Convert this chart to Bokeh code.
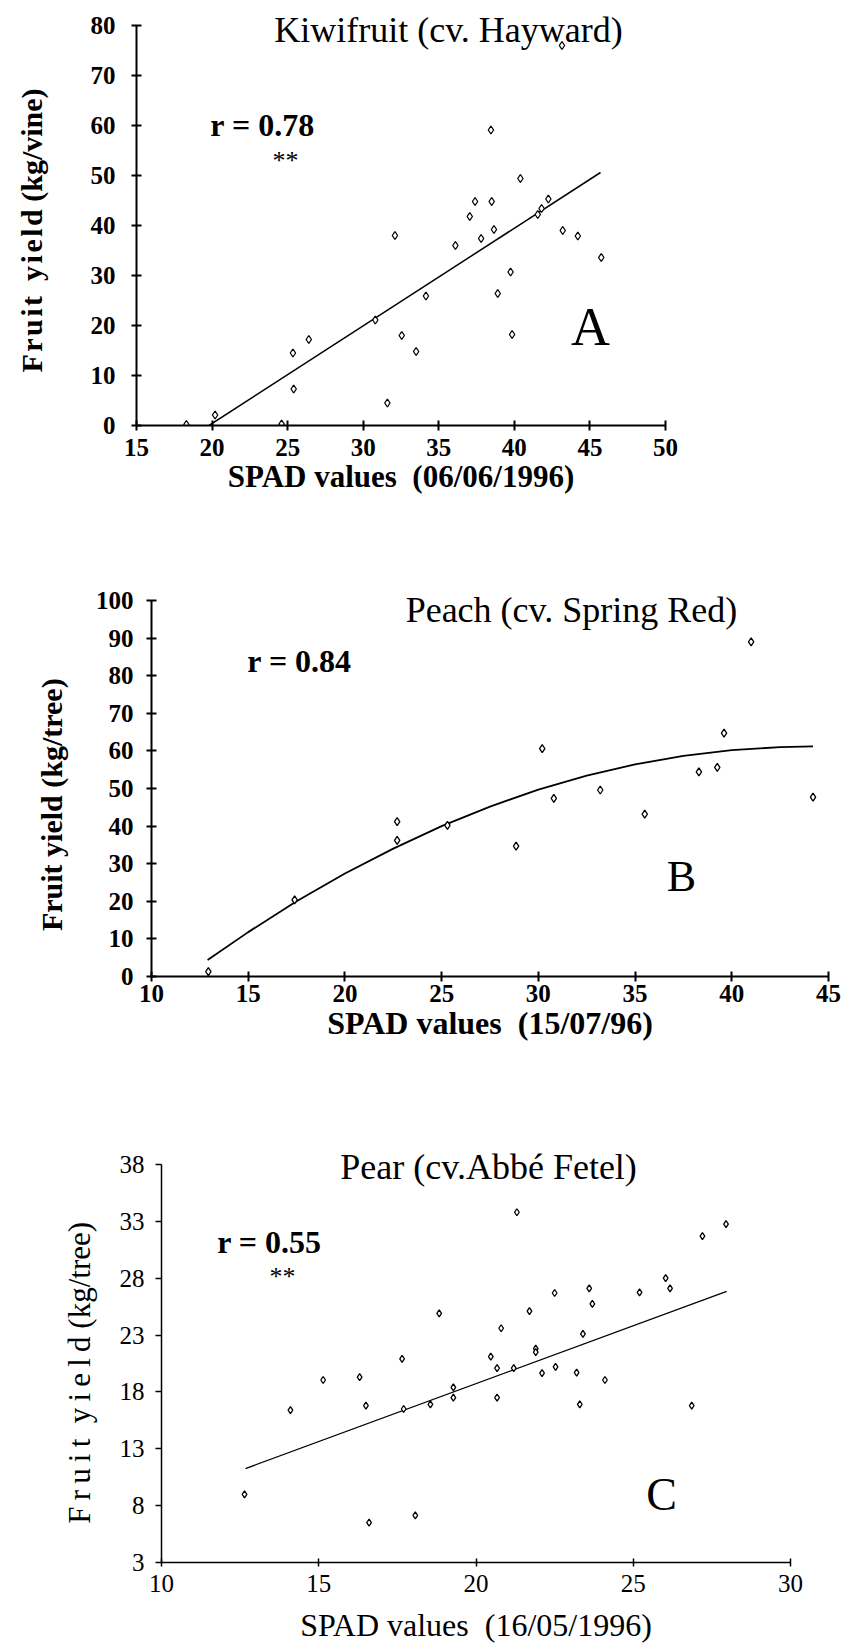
from bokeh.plotting import figure
from bokeh.models import Range1d, FixedTicker, Label
from bokeh.embed import file_html
from bokeh.resources import INLINE

SERIF = "Liberation Serif"
NB = "\u00a0"
HAIR = "\u200a"
THIN = "\u2009"

# ---------------- Panel A : Kiwifruit ----------------
kiwi_spad = [18.3, 20.2, 24.6, 25.35, 25.4, 26.4, 30.8, 31.6, 32.1, 32.55, 33.5, 34.15,
             36.1, 37.05, 37.4, 37.8, 38.45, 38.5, 38.65, 38.9, 39.75, 39.85, 40.4,
             41.55, 41.8, 42.25, 43.2, 44.2, 45.75, 43.15]
kiwi_yield = [0.2, 2.1, 0.3, 14.5, 7.3, 17.2, 21.1, 4.5, 38.0, 18.0, 14.8, 25.9,
              36.0, 41.8, 44.8, 37.4, 59.1, 44.8, 39.2, 26.4, 30.7, 18.2, 49.4,
              42.2, 43.4, 45.3, 39.0, 37.9, 33.6, 76.0]
kiwi_fit_x = [19.8, 45.7]
kiwi_fit_y = [0.0, 50.6]
kiwi_xticks = [15, 20, 25, 30, 35, 40, 45, 50]
kiwi_yticks = [0, 10, 20, 30, 40, 50, 60, 70, 80]

# ---------------- Panel B : Peach ----------------
peach_spad = [12.94, 17.4, 22.7, 22.7, 25.3, 28.85, 30.2, 30.8, 33.2, 35.5, 38.3,
              39.25, 39.6, 41.0, 44.2]
peach_yield = [1.3, 20.4, 41.2, 36.2, 40.2, 34.7, 60.6, 47.4, 49.6, 43.2, 54.4,
               55.6, 64.7, 89.0, 47.7]
peach_fit_x = [12.9, 15, 17.5, 20, 22.5, 25, 27.5, 30, 32.5, 35, 37.5, 40, 42.5, 44.2]
peach_fit_y = [4.4, 11.8, 20.0, 27.4, 34.0, 40.0, 45.2, 49.7, 53.4, 56.4, 58.7, 60.2, 61.0, 61.2]
peach_xticks = [10, 15, 20, 25, 30, 35, 40, 45]
peach_yticks = [0, 10, 20, 30, 40, 50, 60, 70, 80, 90, 100]

# ---------------- Panel C : Pear ----------------
pear_spad = [12.64, 14.1, 15.14, 16.3, 16.5, 16.6, 17.65, 17.7, 18.07, 18.55, 18.83,
             19.28, 19.28, 20.47, 20.67, 20.67, 20.8, 21.2, 21.3, 21.7, 21.9, 21.9,
             22.1, 22.5, 22.53, 23.2, 23.3, 23.4, 23.6, 23.7, 24.1, 25.2, 26.03,
             26.17, 26.86, 27.2, 27.95]
pear_yield = [9.0, 16.4, 19.05, 19.3, 16.8, 6.5, 20.9, 16.5, 7.15, 16.9, 24.9,
              18.4, 17.5, 21.1, 20.1, 17.5, 23.6, 20.1, 33.8, 25.1, 21.8, 21.5,
              19.65, 26.7, 20.2, 19.7, 16.9, 23.1, 27.1, 25.75, 19.05, 26.75, 28.0,
              27.1, 16.8, 31.7, 32.75]
pear_fit_x = [12.67, 27.97]
pear_fit_y = [11.26, 26.85]
pear_xticks = [10, 15, 20, 25, 30]
pear_yticks = [3, 8, 13, 18, 23, 28, 33, 38]


def spaced(word, sep):
    return sep.join(word)


def make_panel(height, frame_top, y_top_px, y_bot_px, left, right, xr, yr):
    """frame_top: top of the frame (px, local); y_top_px / y_bot_px: pixel rows of
    the first and last y tick; the y range is extended above the top tick so the
    in-plot title is not clipped, the axis line itself stops at the top tick."""
    per_px = (yr[1] - yr[0]) / (y_bot_px - y_top_px)
    y_end = yr[1] + (y_top_px - frame_top) * per_px
    p = figure(width=843, height=height,
               x_range=Range1d(*xr), y_range=Range1d(yr[0], y_end),
               output_backend="svg", toolbar_location=None,
               min_border_left=left, min_border_right=843 - right,
               min_border_top=frame_top, min_border_bottom=height - y_bot_px)
    p.outline_line_color = None
    p.xgrid.visible = False
    p.ygrid.visible = False
    p.yaxis[0].bounds = yr
    return p


def style_axis(ax, ticks, label, bold, tick_in, tick_out, lab_standoff, axlab_standoff,
               tick_size, label_size, line_w):
    ax.ticker = FixedTicker(ticks=ticks)
    ax.axis_label = label
    ax.axis_line_color = "black"
    ax.axis_line_width = line_w
    ax.major_tick_line_color = "black"
    ax.major_tick_line_width = line_w
    ax.major_tick_in = tick_in
    ax.major_tick_out = tick_out
    ax.minor_tick_line_color = None
    ax.major_label_text_font = SERIF
    ax.major_label_text_font_size = tick_size
    ax.major_label_text_font_style = "bold" if bold else "normal"
    ax.major_label_text_color = "black"
    ax.major_label_standoff = lab_standoff
    ax.axis_label_text_font = SERIF
    ax.axis_label_text_font_size = label_size
    ax.axis_label_text_font_style = "bold" if bold else "normal"
    ax.axis_label_text_color = "black"
    ax.axis_label_standoff = axlab_standoff


def add_text(p, x, y, text, size, bold=False):
    p.add_layout(Label(x=x, y=y, text=text, text_font=SERIF, text_font_size=size,
                       text_font_style="bold" if bold else "normal",
                       text_align="center", text_baseline="middle", text_color="black"))


def add_points(p, xs, ys, size=8):
    p.scatter(xs, ys, marker="diamond", size=size, fill_color="white",
              line_color="black", line_width=1.3)


# Panel A  (page rows 0..510)
pA = make_panel(510, 5, 25, 425, 136, 665, (15, 50), (0, 80))
style_axis(pA.xaxis[0], kiwi_xticks, "SPAD values" + NB + " (06/06/1996)", True, 5, 5, 8, 0, "25px", "31px", 2)
style_axis(pA.yaxis[0], kiwi_yticks,
           spaced("Fruit", HAIR) + NB + NB + spaced("yield", HAIR) + " (kg/vine)" + NB * 4,
           True, 5, 5, 16, 40, "25px", "30px", 2)
pA.line(kiwi_fit_x, kiwi_fit_y, line_color="black", line_width=1.5)
add_points(pA, kiwi_spad, kiwi_yield)
add_text(pA, 35.64, 79.2, "Kiwifruit (cv. Hayward)", "36px")
add_text(pA, 23.34, 60.2, "r = 0.78", "32px", bold=True)
add_text(pA, 24.86, 53.0, "**", "26px")
add_text(pA, 45.04, 19.8, "A", "54px")

# Panel B  (page rows 510..1050)
pB = make_panel(540, 70, 90, 466, 151, 828, (10, 45), (0, 100))
style_axis(pB.xaxis[0], peach_xticks, "SPAD values" + NB + " (15/07/96)", True, 5, 5, 3, 0, "25px", "32px", 2)
style_axis(pB.yaxis[0], peach_yticks, "Fruit yield (kg/tree)" + NB * 7,
           True, 5, 5, 13, 25, "25px", "30px", 2)
pB.line(peach_fit_x, peach_fit_y, line_color="black", line_width=1.8)
add_points(pB, peach_spad, peach_yield)
add_text(pB, 31.71, 97.6, "Peach (cv. Spring Red)", "36px")
add_text(pB, 17.65, 83.8, "r = 0.84", "32px", bold=True)
add_text(pB, 37.4, 26.6, "B", "44px")

# Panel C  (page rows 1050..1648)
pC = make_panel(598, 94, 114, 512, 161, 790, (10, 30), (3, 38))
style_axis(pC.xaxis[0], pear_xticks, "SPAD values" + NB + " (16/05/1996)", False, 4, 4, 8, 12, "25px", "32px", 1.5)
style_axis(pC.yaxis[0], pear_yticks,
           spaced("Fruit", THIN) + NB + NB + spaced("yield", THIN) + " (kg/tree)" + NB * 5,
           False, 0, 6, 11, 20, "25px", "31px", 1.5)
pC.line(pear_fit_x, pear_fit_y, line_color="black", line_width=1.3)
add_points(pC, pear_spad, pear_yield, size=7)
add_text(pC, 20.4, 37.8, "Pear (cv.Abbé Fetel)", "36px")
add_text(pC, 13.43, 31.2, "r = 0.55", "32px", bold=True)
add_text(pC, 13.85, 28.15, "**", "26px")
add_text(pC, 25.9, 9.0, "C", "46px")

open("out.html", "w").write(file_html([pA, pB, pC], INLINE))
